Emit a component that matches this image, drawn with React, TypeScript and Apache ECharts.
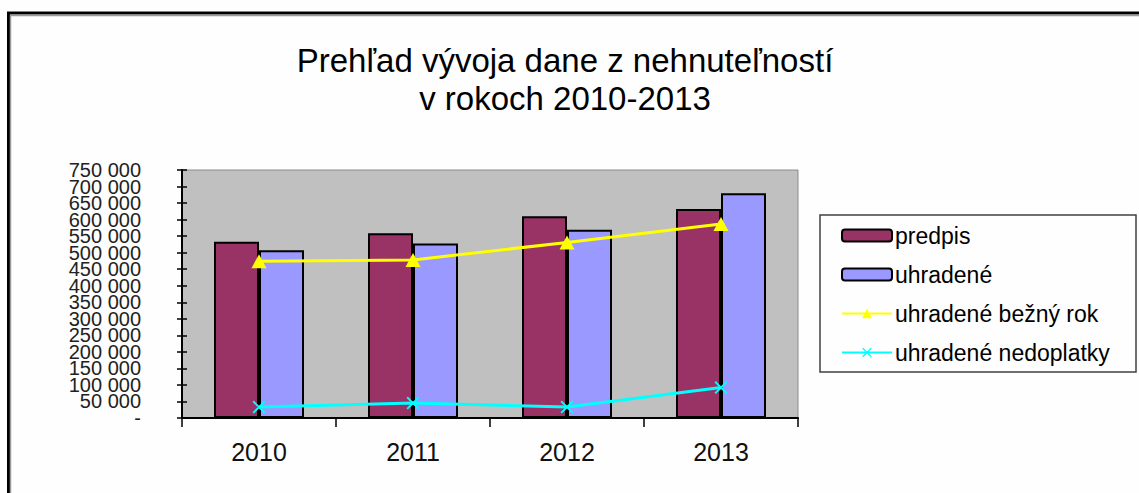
import React, { useEffect, useRef } from "react";
import * as echarts from "echarts";

const titleLines = ["Prehľad vývoja dane z nehnuteľností", "v rokoch 2010-2013"];
const years = ["2010", "2011", "2012", "2013"];
const predpis = [533000, 559000, 610000, 632000];
const uhradene = [507000, 528000, 569000, 680000];
const uhradeneBezny = [474000, 478000, 531000, 587000];
const uhradeneNedoplatky = [33000, 45000, 33000, 92000];
const seriesNames = ["predpis", "uhradené", "uhradené bežný rok", "uhradené nedoplatky"];

const Y_MAX = 750000;
const Y_STEP = 50000;

const FONT = "'Liberation Sans', Arial, sans-serif";
const xSymbol =
  "path://M0,1 L1,0 L5,4 L9,0 L10,1 L6,5 L10,9 L9,10 L5,6 L1,10 L0,9 L4,5 Z";

function fmt(v: number): string {
  if (v === 0) return "-";
  const s = String(v);
  return s.replace(/\B(?=(\d{3})+(?!\d))/g, " ");
}

export default function App() {
  const ref = useRef<HTMLDivElement>(null);
  useEffect(() => {
    document.body.style.margin = "0";
    if (!ref.current) return;
    const chart = echarts.init(ref.current, undefined, { renderer: "svg" });
    const yBase = {
      type: "value" as const,
      min: 0,
      max: Y_MAX,
      interval: Y_STEP,
      position: "left" as const,
      splitLine: { show: false },
    };
    const labelBase = {
      fontFamily: FONT,
      fontSize: 20,
      color: "#222",
      margin: 41,
      showMinLabel: true,
      showMaxLabel: true,
      hideOverlap: false,
    };
    chart.setOption({
      animation: false,
      backgroundColor: "#FEFEFE",
      title: {
        text: titleLines.join("\n"),
        left: 560,
        top: 36,
        textAlign: "center",
        textStyle: {
          fontFamily: FONT,
          fontSize: 33,
          fontWeight: "normal",
          color: "#000",
          lineHeight: 38,
        },
      },
      graphic: [
        {
          type: "rect",
          shape: { x: 8.5, y: 13, width: 1200, height: 600 },
          style: { fill: "none", stroke: "#000", lineWidth: 3 },
          z: 100,
        },
        {
          type: "polyline",
          shape: { points: [[10.5, 493], [10.5, 15.5], [1139, 15.5]] },
          style: { fill: "none", stroke: "#9A9A9A", lineWidth: 1.5 },
          z: 100,
        },
        {
          type: "rect",
          shape: { x: 820, y: 215, width: 316, height: 157 },
          style: { fill: "#FEFEFE", stroke: "#404040", lineWidth: 1.5 },
          z: 1,
        },
      ],
      legend: {
        orient: "vertical",
        left: 841,
        top: 224,
        padding: 0,
        itemGap: 16,
        itemWidth: 50,
        itemHeight: 12,
        z: 5,
        textStyle: { fontFamily: FONT, fontSize: 23, color: "#000", padding: [0, 0, 0, -2] },
        data: seriesNames,
      },
      grid: {
        left: 182,
        right: 341,
        top: 170,
        bottom: 75,
        show: true,
        backgroundColor: "#C0C0C0",
        borderColor: "#8C8C8C",
        borderWidth: 1,
      },
      xAxis: {
        type: "category",
        data: years,
        axisLine: { lineStyle: { color: "#000", width: 2 } },
        axisTick: { show: true, length: 9, lineStyle: { color: "#000", width: 1.5 } },
        axisLabel: { fontFamily: FONT, fontSize: 25, color: "#111", margin: 21 },
      },
      yAxis: [
        {
          ...yBase,
          axisLine: { show: true, lineStyle: { color: "#000", width: 2 } },
          axisTick: { show: true, length: 5, lineStyle: { color: "#000", width: 1.5 } },
          axisLabel: {
            ...labelBase,
            formatter: (v: number) => (Math.round(v / Y_STEP) % 2 === 0 ? fmt(v) : ""),
          },
        },
        {
          ...yBase,
          axisLine: { show: false },
          axisTick: { show: true, inside: true, length: 5, lineStyle: { color: "#000", width: 1.5 } },
          axisLabel: {
            ...labelBase,
            formatter: (v: number) => (Math.round(v / Y_STEP) % 2 === 1 ? fmt(v) : ""),
          },
        },
      ],
      series: [
        {
          name: seriesNames[0],
          type: "bar",
          data: predpis,
          barWidth: 45,
          barGap: "0%",
          itemStyle: { color: "#993366", borderColor: "#000", borderWidth: 2 },
        },
        {
          name: seriesNames[1],
          type: "bar",
          data: uhradene,
          barWidth: 45,
          barGap: "0%",
          itemStyle: { color: "#9999FF", borderColor: "#000", borderWidth: 2 },
        },
        {
          name: seriesNames[2],
          type: "line",
          data: uhradeneBezny,
          symbol: "triangle",
          symbolSize: [15, 14],
          lineStyle: { color: "#FFFF00", width: 3 },
          itemStyle: { color: "#FFFF00" },
          z: 10,
        },
        {
          name: seriesNames[3],
          type: "line",
          data: uhradeneNedoplatky,
          symbol: xSymbol,
          symbolSize: 13,
          lineStyle: { color: "#00FFFF", width: 3 },
          itemStyle: { color: "#00FFFF" },
          z: 10,
        },
      ],
    });
    return () => chart.dispose();
  }, []);
  return <div ref={ref} style={{ width: 1139, height: 493 }} />;
}
